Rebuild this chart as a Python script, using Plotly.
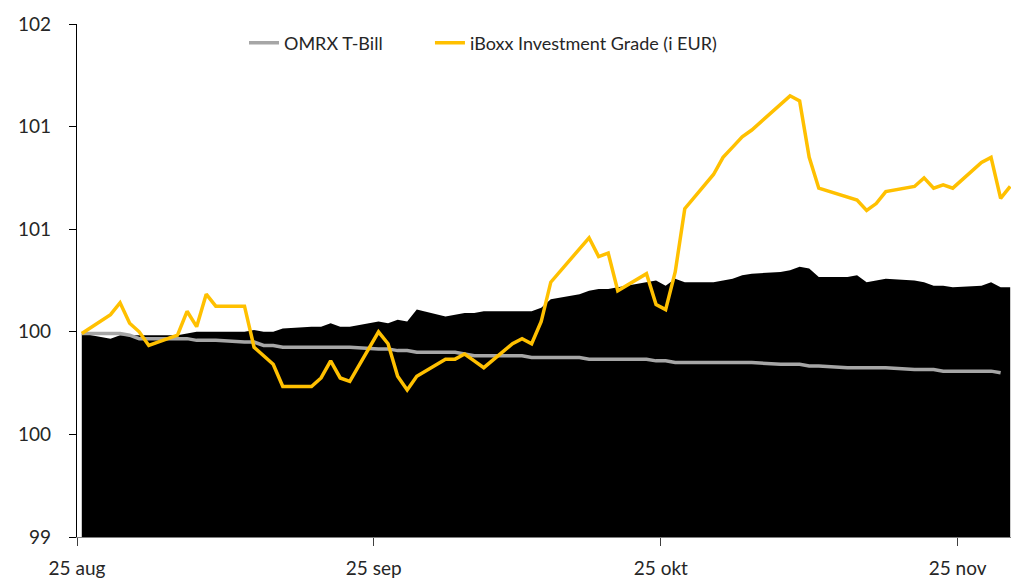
import plotly.graph_objects as go
import pandas as pd

# Business days (data points), 2023
dates = [
    "2023-08-25",
    "2023-08-28", "2023-08-29", "2023-08-30", "2023-08-31", "2023-09-01",
    "2023-09-04", "2023-09-05", "2023-09-06", "2023-09-07", "2023-09-08",
    "2023-09-11", "2023-09-12", "2023-09-13", "2023-09-14", "2023-09-15",
    "2023-09-18", "2023-09-19", "2023-09-20", "2023-09-21", "2023-09-22",
    "2023-09-25", "2023-09-26", "2023-09-27", "2023-09-28", "2023-09-29",
    "2023-10-02", "2023-10-03", "2023-10-04", "2023-10-05", "2023-10-06",
    "2023-10-09", "2023-10-10", "2023-10-11", "2023-10-12", "2023-10-13",
    "2023-10-16", "2023-10-17", "2023-10-18", "2023-10-19", "2023-10-20",
    "2023-10-23", "2023-10-24", "2023-10-25", "2023-10-26", "2023-10-27",
    "2023-10-30", "2023-10-31", "2023-11-01", "2023-11-02", "2023-11-03",
    "2023-11-06", "2023-11-07", "2023-11-08", "2023-11-09", "2023-11-10",
    "2023-11-13", "2023-11-14", "2023-11-15", "2023-11-16", "2023-11-17",
    "2023-11-20", "2023-11-21", "2023-11-22", "2023-11-23", "2023-11-24",
    "2023-11-27", "2023-11-28", "2023-11-29", "2023-11-30",
]

# Unnamed filled series (black area)
area_values = [
    100.19,
    100.16, 100.18, 100.18, 100.18, 100.18,
    100.18, 100.19, 100.20, 100.20, 100.20,
    100.20, 100.21, 100.20, 100.20, 100.22,
    100.23, 100.23, 100.25, 100.23, 100.23,
    100.26, 100.25, 100.27, 100.26, 100.33,
    100.29, 100.30, 100.31, 100.31, 100.32,
    100.32, 100.32, 100.32, 100.34, 100.39,
    100.42, 100.44, 100.45, 100.45, 100.46,
    100.49, 100.50, 100.47, 100.51, 100.49,
    100.49, 100.50, 100.51, 100.53, 100.54,
    100.55, 100.56, 100.58, 100.57, 100.52,
    100.52, 100.53, 100.49, 100.50, 100.51,
    100.50, 100.49, 100.47, 100.47, 100.46,
    100.47, 100.49, 100.46, 100.46,
]

# OMRX T-Bill
tbill_values = [
    100.19,
    100.19, 100.19, 100.18, 100.16, 100.16,
    100.16, 100.16, 100.15, 100.15, 100.15,
    100.14, 100.14, 100.12, 100.12, 100.11,
    100.11, 100.11, 100.11, 100.11, 100.11,
    100.10, 100.10, 100.09, 100.09, 100.08,
    100.08, 100.08, 100.07, 100.06, 100.06,
    100.06, 100.06, 100.05, 100.05, 100.05,
    100.05, 100.04, 100.04, 100.04, 100.04,
    100.04, 100.03, 100.03, 100.02, 100.02,
    100.02, 100.02, 100.02, 100.02, 100.02,
    100.01, 100.01, 100.01, 100.00, 100.00,
    99.99, 99.99, 99.99, 99.99, 99.99,
    99.98, 99.98, 99.98, 99.97, 99.97,
    99.97, 99.97, 99.96, None,
]

# iBoxx Investment Grade (i EUR)
iboxx_values = [
    100.19,
    100.30, 100.37, 100.25, 100.20, 100.12,
    100.18, 100.32, 100.23, 100.42, 100.35,
    100.35, 100.11, 100.06, 100.01, 99.88,
    99.88, 99.93, 100.03, 99.93, 99.91,
    100.20, 100.13, 99.94, 99.86, 99.94,
    100.04, 100.04, 100.07, 100.03, 99.99,
    100.13, 100.16, 100.13, 100.26, 100.49,
    100.69, 100.75, 100.64, 100.66, 100.44,
    100.54, 100.36, 100.33, 100.55, 100.92,
    101.12, 101.22, 101.28, 101.34, 101.38,
    101.53, 101.58, 101.55, 101.22, 101.04,
    100.99, 100.97, 100.91, 100.95, 101.02,
    101.05, 101.10, 101.04, 101.06, 101.04,
    101.19, 101.22, 100.98, 101.05,
]

tick_dates = ["2023-08-25", "2023-09-25", "2023-10-25", "2023-11-25"]
tick_date_labels = ["25 aug", "25 sep", "25 okt", "25 nov"]
y_tick_values = [99, 99.6, 100.2, 100.8, 101.4, 102]
y_tick_labels = ["99", "100", "100", "101", "101", "102"]

# points sit in the middle of each day slot (date axis, between tick marks)
x = pd.to_datetime(dates) + pd.Timedelta(hours=12)

FONT = "Lato"
TEXT = "#262626"

fig = go.Figure()
fig.add_trace(go.Scatter(
    x=x, y=area_values, mode="lines", fill="tozeroy",
    line=dict(width=0, color="#000000"), fillcolor="#000000",
    showlegend=False, hoverinfo="skip",
))
fig.add_trace(go.Scatter(
    x=x, y=tbill_values, mode="lines", name="OMRX T-Bill",
    line=dict(color="#A6A6A6", width=3.5), legend="legend",
))
fig.add_trace(go.Scatter(
    x=x, y=iboxx_values, mode="lines", name="iBoxx Investment Grade (i EUR)",
    line=dict(color="#FFC000", width=3.5), legend="legend2",
))

legend_common = dict(
    orientation="h", xanchor="left", y=0.963, yanchor="middle",
    bgcolor="rgba(0,0,0,0)", font=dict(family=FONT, size=18, color=TEXT),
    itemwidth=30,
)

fig.update_layout(
    width=1011, height=579,
    margin=dict(l=77, r=0, t=24, b=42, autoexpand=False),
    paper_bgcolor="white", plot_bgcolor="white",
    font=dict(family=FONT, size=19, color=TEXT),
    legend=dict(x=0.1788, **legend_common),
    legend2=dict(x=0.3779, **legend_common),
    xaxis=dict(
        type="date",
        range=["2023-08-25 00:00", "2023-11-30 14:00"],
        tickvals=tick_dates, ticktext=tick_date_labels,
        ticks="outside", ticklen=8, tickcolor="#404040", tickwidth=1,
        showline=True, linecolor="#7f7f7f", linewidth=1,
        showgrid=False, zeroline=False, automargin=False,
        ticklabelstandoff=6,
    ),
    yaxis=dict(
        range=[99, 102],
        tickvals=y_tick_values, ticktext=y_tick_labels,
        ticks="outside", ticklen=7, tickcolor="#000000", tickwidth=1,
        showline=True, linecolor="#000000", linewidth=1.3,
        showgrid=False, zeroline=False, automargin=False,
        ticklabelstandoff=14,
    ),
)

fig.write_html(
    "out.html",
    config={"displayModeBar": False},
    post_script="document.body.style.margin='0px'; document.body.style.overflow='hidden';",
)
